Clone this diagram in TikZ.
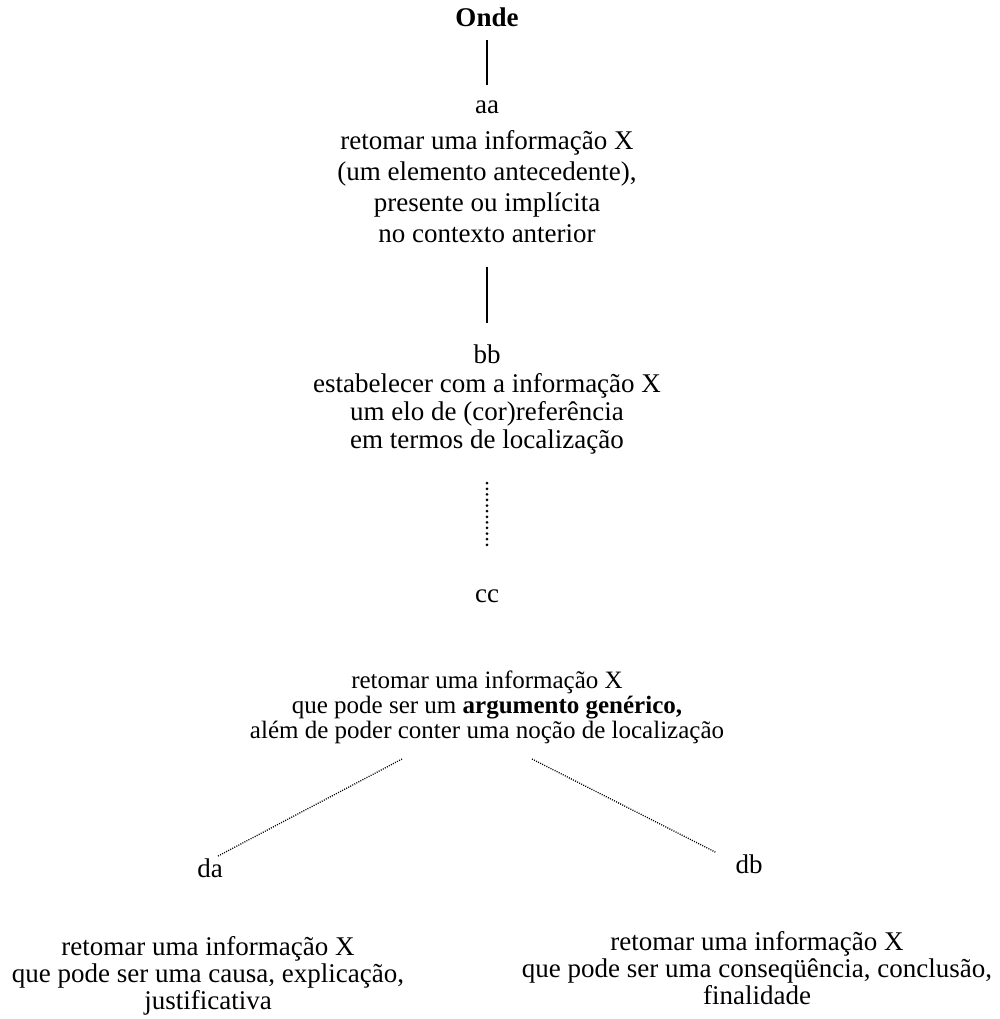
\documentclass[tikz,border=0pt]{standalone}
\usepackage{fontspec}
\setmainfont{Liberation Serif}
\usepackage{xcolor}
\usetikzlibrary{positioning, calc}

\begin{document}
\begin{tikzpicture}[x=1pt, y=-1pt,
    texto/.style={align=center, inner sep=0pt, anchor=north},
    rotulo/.style={inner sep=0pt, anchor=base},
    traco/.style={line width=2.6pt},
    pontos/.style={line width=3pt, line cap=round, dash pattern=on 0pt off 5.6pt},
    ramo/.style={line width=1.3pt, dash pattern=on 1pt off 1.3pt}]

      \useasboundingbox (0,0) rectangle (999,1019);

      % Topo
      \node[rotulo, font=\fontsize{27}{31}\selectfont\bfseries] (onde) at (487,27) {Onde};
      \node[rotulo, font=\fontsize{27}{31}\selectfont] (aa) at (487,114) {aa};
      \node[texto, font=\fontsize{27}{31}\selectfont] (infoA) at (487,130)
        {retomar uma informação X\\(um elemento antecedente),\\presente ou implícita\\no contexto anterior};

      % Segundo nivel
      \node[rotulo, font=\fontsize{27}{31}\selectfont] (bb) at (487,363) {bb};
      \node[texto, font=\fontsize{27}{28}\selectfont] (infoB) at (487,373)
        {estabelecer com a informação X\\um elo de (cor)referência\\em termos de localização};

      % Terceiro nivel
      \node[rotulo, font=\fontsize{27}{31}\selectfont] (cc) at (487,602) {cc};
      \node[texto, font=\fontsize{25}{25}\selectfont] (infoC) at (487,671)
        {retomar uma informação X\\que pode ser um \textbf{argumento genérico,}\\além de poder conter uma noção de localização};

      % Ramos
      \node[rotulo, font=\fontsize{27}{31}\selectfont] (da) at (210,877) {da};
      \node[rotulo, font=\fontsize{27}{31}\selectfont] (db) at (749,873) {db};
      \node[texto, font=\fontsize{27}{27}\selectfont] (infoDA) at (208,936)
        {retomar uma informação X\\que pode ser uma causa, explicação,\\justificativa};
      \node[texto, font=\fontsize{27}{27}\selectfont] (infoDB) at (757,931)
        {retomar uma informação X\\que pode ser uma conseqüência, conclusão,\\finalidade};

      % Ligações
      \draw[traco, shorten <=13pt, shorten >=16pt] (onde) -- (aa);
      \draw[traco, shorten <=24pt, shorten >=21pt] (infoA) -- (bb);
      \draw[pontos, shorten <=29pt, shorten >=40pt] (infoB) -- (cc);

      \coordinate (ramoE) at (402,759);
      \coordinate (ramoD) at (532,759);
      \draw[ramo] (ramoE) -- ($(da.north east)+(-5,-2)$);
      \draw[ramo] (ramoD) -- ($(db.north west)+(-20,-2)$);
    \end{tikzpicture}
\end{document}
